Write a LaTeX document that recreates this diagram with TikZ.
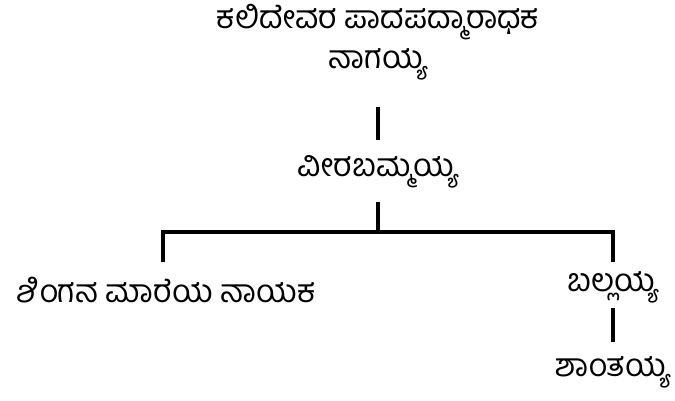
\documentclass[tikz,border=0pt]{standalone}
\usepackage{fontspec}
\newfontfamily\kn[Script=Kannada]{Hind Mysuru}
\begin{document}
\begin{tikzpicture}[x=1pt,y=-1pt,
  lbl/.style={font=\kn\fontsize{32}{40}\selectfont, inner sep=0pt, align=center},
  ln/.style={line width=4pt}]
\useasboundingbox (0,0) rectangle (675,400);
\node[lbl] (top) at (378,42) {ಕಲಿದೇವರ ಪಾದಪದ್ಮಾರಾಧಕ\\ನಾಗಯ್ಯ};
\node[lbl] (vb) at (378,172) {ವೀರಬಮ್ಮಯ್ಯ};
\node[lbl] (sm) at (166,290) {ಶಿಂಗನ ಮಾರೆಯ ನಾಯಕ};
\node[lbl] (bl) at (613,287) {ಬಲ್ಲಯ್ಯ};
\node[lbl] (sh) at (613,372) {ಶಾಂತಯ್ಯ};
\coordinate (t1) at (378,107);
\coordinate (t2) at (378,140);
\coordinate (v1) at (378,202);
\coordinate (h) at (378,232);
\coordinate (hl) at (163,232);
\coordinate (hr) at (613,232);
\coordinate (l2) at (163,262);
\coordinate (r2) at (613,262);
\coordinate (b1) at (613,308);
\coordinate (b2) at (613,342);
\draw[ln] (t1) -- (t2);
\draw[ln] (v1) -- (h);
\draw[ln] (l2) -- (hl) -- (hr) -- (r2);
\draw[ln] (b1) -- (b2);
\end{tikzpicture}
\end{document}
